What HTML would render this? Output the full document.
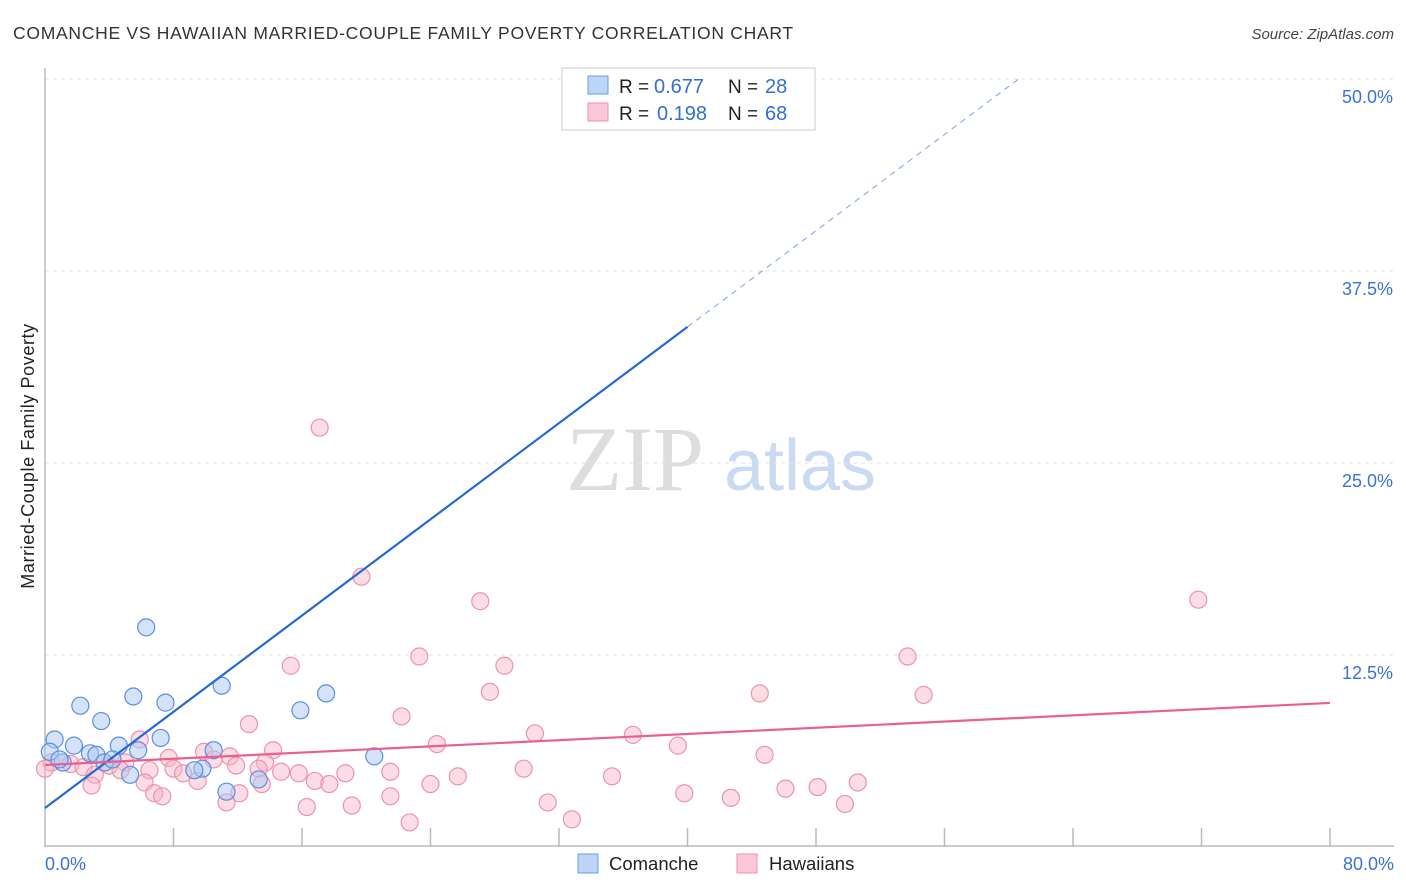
<!DOCTYPE html>
<html><head><meta charset="utf-8">
<style>
body{margin:0;background:#fff;font-family:"Liberation Sans",sans-serif;}
svg{display:block}
</style></head><body>
<svg id="chart" width="1406" height="892" xmlns="http://www.w3.org/2000/svg">
<text x="13" y="39" font-size="17.5" letter-spacing="0.72" fill="#333" font-family="Liberation Sans, sans-serif">COMANCHE VS HAWAIIAN MARRIED-COUPLE FAMILY POVERTY CORRELATION CHART</text>
<text x="1394" y="39" font-size="15" fill="#444" font-style="italic" text-anchor="end">Source: ZipAtlas.com</text>
<g>
<text x="635" y="490" font-size="92" fill="#ddd" font-family="Liberation Serif, serif" text-anchor="middle">ZIP</text>
<text x="800" y="490" font-size="72" fill="#c9daf2" text-anchor="middle">atlas</text>
</g>
<g id="grid"></g>
<g id="axes"></g>
<g id="lines"></g>
<g id="points"></g>
<text transform="translate(34,456) rotate(-90)" font-size="18" letter-spacing="0.6" fill="#222" text-anchor="middle">Married-Couple Family Poverty</text>
<g>
<rect x="562" y="68" width="253" height="62" fill="#fff" stroke="#ccc"/>
<rect x="588" y="76" width="20" height="18" fill="#bcd4f5" stroke="#6a9be0"/>
<rect x="588" y="103" width="20" height="18" fill="#fbc8d7" stroke="#ec8fac"/>
<text x="619" y="93" font-size="19" fill="#222">R =</text>
<text x="654" y="93" font-size="20" fill="#2f6fd6">0.677</text>
<text x="728" y="93" font-size="19" fill="#222">N =</text>
<text x="765" y="93" font-size="20" fill="#2f6fd6">28</text>
<text x="619" y="120" font-size="19" fill="#222">R =</text>
<text x="657" y="120" font-size="20" fill="#2f6fd6">0.198</text>
<text x="728" y="120" font-size="19" fill="#222">N =</text>
<text x="765" y="120" font-size="20" fill="#2f6fd6">68</text>
</g>
<g>
<rect x="578" y="854" width="20" height="19" fill="#bcd4f5" stroke="#6a9be0"/>
<text x="609" y="870" font-size="18.5" fill="#222">Comanche</text>
<rect x="737" y="854" width="20" height="19" fill="#fbc8d7" stroke="#ec8fac"/>
<text x="769" y="870" font-size="18.5" fill="#222">Hawaiians</text>
</g>
</svg>
<script>
const yTicks=[12.5,25,37.5,50];
const yTickLabels=["12.5%","25.0%","37.5%","50.0%"];
const xTicks=[0,8,16,24,32,40,48,56,64,72,80];
const xEndLabels=["0.0%","80.0%"];
const comancheX=[33.3,6.3,2.2,5.5,7.5,11.0,17.5,15.9,3.5,0.6,1.8,7.2,4.6,2.8,3.2,5.8,10.5,20.5,0.3,1.1,3.7,4.2,5.3,9.8,13.3,11.3,9.3,0.9];
const comancheY=[49.9,14.3,9.2,9.8,9.4,10.5,10.0,8.9,8.2,7.0,6.6,7.1,6.6,6.1,6.0,6.3,6.3,5.9,6.2,5.5,5.5,5.7,4.7,5.1,4.4,3.6,5.0,5.7];
const hawaiiX=[17.1,19.7,27.1,71.8,23.3,15.3,28.6,53.7,27.7,44.5,54.7,22.2,12.7,30.5,36.6,39.4,44.8,24.4,5.9,14.2,9.9,7.7,11.5,13.7,10.5,8.0,6.5,0.4,0.0,1.6,2.4,4.0,3.1,5.0,8.6,9.5,11.9,13.3,14.7,15.8,4.7,16.8,18.7,21.5,29.8,35.3,6.2,2.9,25.7,24.0,17.7,13.5,12.1,6.8,7.3,21.5,39.8,42.7,46.1,48.1,50.6,31.3,19.1,16.3,11.3,49.8,22.7,32.8];
const hawaiiY=[27.3,17.6,16.0,16.1,12.4,11.8,11.8,12.4,10.1,10.0,9.9,8.5,8.0,7.4,7.3,6.6,6.0,6.7,7.0,6.3,6.2,5.8,5.9,5.5,5.7,5.1,5.0,5.5,5.1,5.4,5.2,5.3,4.7,5.5,4.8,4.3,5.3,5.1,4.9,4.8,5.0,4.3,4.8,4.9,5.1,4.6,4.2,4.0,4.6,4.1,4.1,4.1,3.5,3.5,3.3,3.3,3.5,3.2,3.8,3.9,4.2,2.9,2.7,2.6,2.9,2.8,1.6,1.8];
const comancheFit=[2.54,0.783];
const hawaiiFit=[5.34,0.0505];

const NS="http://www.w3.org/2000/svg";
const X0=45,X1=1330,Y0=847,Y50=79;
const sx=v=>X0+(X1-X0)*v/80;
const sy=v=>Y0-(Y0-Y50)*v/50;
function mk(tag,attrs,parent){const e=document.createElementNS(NS,tag);for(const k in attrs)e.setAttribute(k,attrs[k]);parent.appendChild(e);return e;}
const grid=document.getElementById('grid'),axes=document.getElementById('axes'),lines=document.getElementById('lines'),pts=document.getElementById('points');
yTicks.forEach((t,i)=>{
  const l=mk('line',{x1:X0,x2:1394,y1:sy(t),y2:sy(t),stroke:'#e3e3e3','stroke-dasharray':'4,4'},grid);
  
  
  const tx=mk('text',{x:1393,y:sy(t)+24,'font-size':18,fill:'#3a72d6','text-anchor':'end'},grid);
  tx.textContent=yTickLabels[i];
  
  
});
const ya=mk('line',{x1:X0,x2:X0,y1:68,y2:Y0,stroke:'#bbb','stroke-width':1.5},axes);


const xa=mk('line',{x1:X0,x2:1394,y1:Y0-1,y2:Y0-1,stroke:'#bbb','stroke-width':1.5},axes);


xTicks.forEach(t=>{if(t===0)return;
  const l=mk('line',{x1:sx(t),x2:sx(t),y1:828,y2:Y0,stroke:'#bbb','stroke-width':1.5},axes);
  
  
});
[[0,'start',45],[80,'end',1394]].forEach((a,i)=>{
  const tx=mk('text',{x:a[2],y:870,'font-size':18,fill:'#3a72d6','text-anchor':a[1]},axes);
  tx.textContent=xEndLabels[i];
  
  
});
function drawPts(xs,ys,fill,stroke,name){
  xs.forEach((x,i)=>{
    const c=mk('circle',{cx:sx(x),cy:sy(ys[i]),r:8.5,fill:fill,stroke:stroke,'stroke-width':1.2},pts);
    
    
  });
}
drawPts(hawaiiX,hawaiiY,'rgba(249,180,200,0.45)','#ec93ae','hawaiians-point');
drawPts(comancheX,comancheY,'rgba(170,200,242,0.5)','#5b8fdc','comanche-point');
const f=(fit,x)=>fit[0]+fit[1]*x;
const bl=mk('line',{x1:sx(0),y1:sy(f(comancheFit,0)),x2:sx(40),y2:sy(f(comancheFit,40)),stroke:'#2469d6','stroke-width':2.2},lines);


const xe=(50-comancheFit[0])/comancheFit[1];
const bd=mk('line',{x1:sx(40),y1:sy(f(comancheFit,40)),x2:sx(xe),y2:sy(50),stroke:'#7fa3dd','stroke-width':1,'stroke-dasharray':'6,5'},lines);


const pl=mk('line',{x1:sx(0),y1:sy(f(hawaiiFit,0)),x2:sx(80),y2:sy(f(hawaiiFit,80)),stroke:'#e8618c','stroke-width':2.2},lines);


document.getElementById('chart').appendChild(lines);
</script>
</body></html>
